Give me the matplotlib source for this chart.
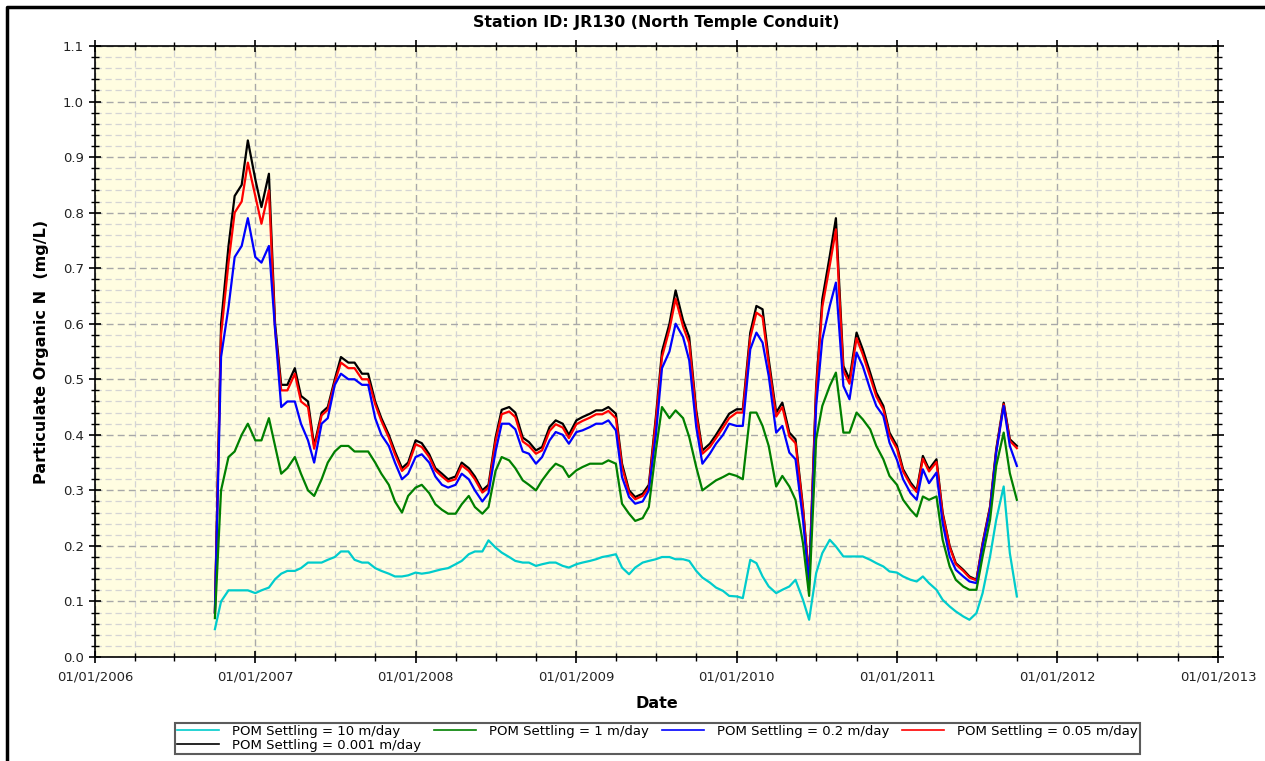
import matplotlib
matplotlib.use('Agg')
import matplotlib.pyplot as plt
import matplotlib.dates as mdates
from matplotlib.lines import Line2D
from matplotlib.ticker import MultipleLocator, FormatStrFormatter
import pandas as pd

# semimonthly sample dates (1st and 15th), Oct 2006 - Oct 2011
dates = pd.date_range('2006-10-01', '2011-10-01', freq='SMS')

# POM settling = 0.001 m/day
black_vals = [
    0.08, 0.60, 0.74, 0.83, 0.85, 0.93,
    0.86, 0.81, 0.87, 0.60, 0.49, 0.49, 0.52, 0.47, 0.46, 0.38, 0.44, 0.45,
    0.50, 0.54, 0.53, 0.53, 0.51, 0.51, 0.46, 0.43, 0.40, 0.37, 0.34, 0.35,
    0.39, 0.385, 0.365, 0.34, 0.33, 0.32, 0.325, 0.35, 0.34, 0.325, 0.30, 0.31,
    0.395, 0.445, 0.45, 0.44, 0.395, 0.387, 0.372, 0.378, 0.414, 0.426, 0.42, 0.40,
    0.426, 0.432, 0.438, 0.444, 0.444, 0.45, 0.438, 0.348, 0.30, 0.288, 0.294, 0.31,
    0.432, 0.55, 0.60, 0.66, 0.606, 0.576, 0.444, 0.372, 0.384, 0.40, 0.42, 0.438,
    0.446, 0.446, 0.584, 0.632, 0.626, 0.536, 0.44, 0.458, 0.404, 0.392, 0.27, 0.14,
    0.488, 0.644, 0.722, 0.79, 0.524, 0.50, 0.584, 0.554, 0.512, 0.476, 0.452, 0.404,
    0.38, 0.338, 0.314, 0.30, 0.362, 0.338, 0.356, 0.26, 0.20, 0.169, 0.157, 0.145,
    0.139, 0.205, 0.271, 0.374, 0.458, 0.392, 0.38,
]

# POM settling = 0.05 m/day
red_vals = [
    0.08, 0.58, 0.71, 0.80, 0.82, 0.89,
    0.83, 0.78, 0.84, 0.59, 0.48, 0.48, 0.51, 0.46, 0.45, 0.375, 0.435, 0.445,
    0.495, 0.53, 0.52, 0.52, 0.50, 0.50, 0.455, 0.425, 0.395, 0.365, 0.335, 0.345,
    0.383, 0.378, 0.36, 0.336, 0.325, 0.316, 0.32, 0.345, 0.335, 0.32, 0.296, 0.305,
    0.388, 0.437, 0.442, 0.432, 0.388, 0.38, 0.366, 0.372, 0.407, 0.419, 0.413, 0.394,
    0.419, 0.425, 0.431, 0.437, 0.437, 0.443, 0.43, 0.342, 0.296, 0.284, 0.29, 0.305,
    0.425, 0.54, 0.59, 0.645, 0.595, 0.565, 0.437, 0.366, 0.378, 0.394, 0.413, 0.43,
    0.44, 0.44, 0.575, 0.62, 0.612, 0.527, 0.433, 0.45, 0.397, 0.385, 0.266, 0.138,
    0.48, 0.63, 0.705, 0.77, 0.515, 0.492, 0.574, 0.545, 0.504, 0.469, 0.446, 0.399,
    0.375, 0.334, 0.31, 0.297, 0.357, 0.334, 0.351, 0.257, 0.198, 0.167, 0.155, 0.143,
    0.138, 0.203, 0.269, 0.371, 0.455, 0.389, 0.376,
]

# POM settling = 0.2 m/day
blue_vals = [
    0.08, 0.54, 0.63, 0.72, 0.74, 0.79,
    0.72, 0.71, 0.74, 0.59, 0.45, 0.46, 0.46, 0.42, 0.39, 0.35, 0.42, 0.43,
    0.49, 0.51, 0.50, 0.50, 0.49, 0.49, 0.43, 0.40, 0.38, 0.35, 0.32, 0.33,
    0.36, 0.365, 0.35, 0.325, 0.31, 0.305, 0.31, 0.33, 0.32, 0.30, 0.28, 0.295,
    0.37, 0.42, 0.42, 0.41, 0.37, 0.366, 0.348, 0.36, 0.39, 0.405, 0.40, 0.384,
    0.405, 0.408, 0.414, 0.42, 0.42, 0.426, 0.408, 0.324, 0.288, 0.276, 0.28, 0.30,
    0.40, 0.52, 0.55, 0.60, 0.576, 0.534, 0.414, 0.348, 0.366, 0.384, 0.40, 0.42,
    0.416, 0.416, 0.554, 0.584, 0.566, 0.506, 0.404, 0.416, 0.368, 0.356, 0.247, 0.13,
    0.452, 0.572, 0.632, 0.674, 0.488, 0.464, 0.548, 0.524, 0.482, 0.452, 0.434, 0.386,
    0.355, 0.32, 0.295, 0.283, 0.338, 0.313, 0.332, 0.241, 0.181, 0.157, 0.145, 0.136,
    0.133, 0.199, 0.265, 0.368, 0.452, 0.38, 0.344,
]

# POM settling = 1 m/day
green_vals = [
    0.07, 0.30, 0.36, 0.37, 0.40, 0.42,
    0.39, 0.39, 0.43, 0.38, 0.33, 0.34, 0.36, 0.33, 0.30, 0.29, 0.32, 0.35,
    0.37, 0.38, 0.38, 0.37, 0.37, 0.37, 0.35, 0.33, 0.31, 0.28, 0.26, 0.29,
    0.305, 0.31, 0.295, 0.275, 0.265, 0.258, 0.258, 0.275, 0.29, 0.27, 0.258, 0.27,
    0.335, 0.36, 0.354, 0.34, 0.318, 0.31, 0.30, 0.318, 0.336, 0.348, 0.342, 0.324,
    0.336, 0.342, 0.348, 0.348, 0.348, 0.354, 0.348, 0.276, 0.258, 0.245, 0.25, 0.27,
    0.372, 0.45, 0.43, 0.444, 0.43, 0.396, 0.342, 0.30, 0.31, 0.318, 0.324, 0.33,
    0.326, 0.32, 0.44, 0.44, 0.416, 0.38, 0.307, 0.326, 0.307, 0.283, 0.205, 0.11,
    0.392, 0.452, 0.488, 0.512, 0.404, 0.404, 0.44, 0.428, 0.41, 0.38, 0.356, 0.326,
    0.31, 0.283, 0.265, 0.253, 0.289, 0.283, 0.289, 0.211, 0.163, 0.139, 0.127, 0.121,
    0.121, 0.181, 0.247, 0.344, 0.404, 0.331, 0.283,
]

# POM settling = 10 m/day
cyan_vals = [
    0.05, 0.10, 0.12, 0.12, 0.12, 0.12,
    0.115, 0.12, 0.125, 0.14, 0.15, 0.155, 0.155, 0.16, 0.17, 0.17, 0.17, 0.175,
    0.18, 0.19, 0.19, 0.175, 0.17, 0.17, 0.16, 0.155, 0.15, 0.145, 0.145, 0.147,
    0.152, 0.15, 0.152, 0.155, 0.158, 0.16, 0.167, 0.173, 0.185, 0.19, 0.19, 0.21,
    0.197, 0.188, 0.18, 0.173, 0.17, 0.17, 0.164, 0.167, 0.17, 0.17, 0.164, 0.161,
    0.167, 0.17, 0.173, 0.176, 0.18, 0.182, 0.185, 0.161, 0.149, 0.161, 0.17, 0.173,
    0.176, 0.18, 0.18, 0.176, 0.176, 0.173, 0.155, 0.143, 0.134, 0.125, 0.119, 0.11,
    0.109, 0.106, 0.175, 0.169, 0.145, 0.127, 0.115, 0.121, 0.127, 0.139, 0.103, 0.067,
    0.151, 0.187, 0.211, 0.199, 0.181, 0.181, 0.181, 0.181, 0.175, 0.169, 0.163, 0.154,
    0.152, 0.145, 0.139, 0.136, 0.145, 0.133, 0.121, 0.103, 0.091, 0.082, 0.073, 0.067,
    0.079, 0.115, 0.181, 0.247, 0.307, 0.187, 0.109,
]

labels = ['POM Settling = 10 m/day', 'POM Settling = 1 m/day',
          'POM Settling = 0.2 m/day', 'POM Settling = 0.05 m/day',
          'POM Settling = 0.001 m/day']
colors = ['#00CCCC', '#008000', '#0000FF', '#FF0000', '#000000']

plt.rcParams['font.family'] = 'DejaVu Sans'

fig = plt.figure(figsize=(12.65, 7.61), dpi=100)
ax = fig.add_axes([95 / 1265, 1 - 657 / 761, 1123 / 1265, 611 / 761])
ax.set_facecolor('#FFFDE1')

# draw back to front: black first, cyan last
series = [cyan_vals, green_vals, blue_vals, red_vals, black_vals]
handles = [None] * 5
for i in [4, 3, 2, 1, 0]:
    line, = ax.plot(dates, series[i], color=colors[i], lw=1.6, label=labels[i])
    handles[i] = line

ax.set_xlim(pd.Timestamp('2006-01-01'), pd.Timestamp('2013-01-01'))
ax.set_ylim(0, 1.1)
ax.xaxis.set_major_locator(mdates.YearLocator())
ax.xaxis.set_major_formatter(mdates.DateFormatter('%m/%d/%Y'))
ax.xaxis.set_minor_locator(mdates.MonthLocator(bymonth=[4, 7, 10]))
ax.yaxis.set_major_locator(MultipleLocator(0.1))
ax.yaxis.set_minor_locator(MultipleLocator(0.02))
ax.yaxis.set_major_formatter(FormatStrFormatter('%.1f'))

ax.grid(which='major', linestyle=(0, (5, 3)), color='#A8A8A8', lw=1.0)
ax.grid(which='minor', linestyle=(0, (5, 3)), color='#D4D4D4', lw=0.9)
ax.set_axisbelow(True)

ax.tick_params(which='major', direction='inout', length=9, width=1.2,
               labelsize=9.5, colors='black', labelcolor='#222222',
               top=True, right=True)
ax.tick_params(which='minor', direction='inout', length=6, width=1.0,
               top=True, right=True)
ax.tick_params(axis='x', pad=5)
for s in ax.spines.values():
    s.set_linewidth(1.2)

ax.set_title('Station ID: JR130 (North Temple Conduit)', fontsize=11.3,
             fontweight='bold', pad=14)
ax.set_xlabel('Date', fontsize=11.5, fontweight='bold', labelpad=9)
ax.set_ylabel('Particulate Organic N  (mg/L)', fontsize=11.5,
              fontweight='bold', labelpad=10)

# legend rows: cyan green blue red / black (column-major fill order)
order = [0, 4, 1, 2, 3]
leg = fig.legend(handles=[handles[k] for k in order],
                 labels=[labels[k] for k in order], ncol=4, loc='upper left',
                 bbox_to_anchor=(175 / 1265, -0.02, 965 / 1265, 0.0499 + 0.02),
                 mode='expand', fontsize=9.5, handlelength=3.2,
                 frameon=True, fancybox=False, borderpad=0.15,
                 labelspacing=0.05, handletextpad=1.0, borderaxespad=0)
leg.get_frame().set_edgecolor('#333333')
leg.get_frame().set_linewidth(1.5)
for h in leg.get_lines():
    h.set_linewidth(1.2)

# outer frame, only left and top edges visible
fig.add_artist(Line2D([7 / 1265, 7 / 1265, 1.0], [0.0, 1 - 7 / 761, 1 - 7 / 761],
                      transform=fig.transFigure, color='black', lw=2.5))

fig.savefig('out.png', dpi=100)
